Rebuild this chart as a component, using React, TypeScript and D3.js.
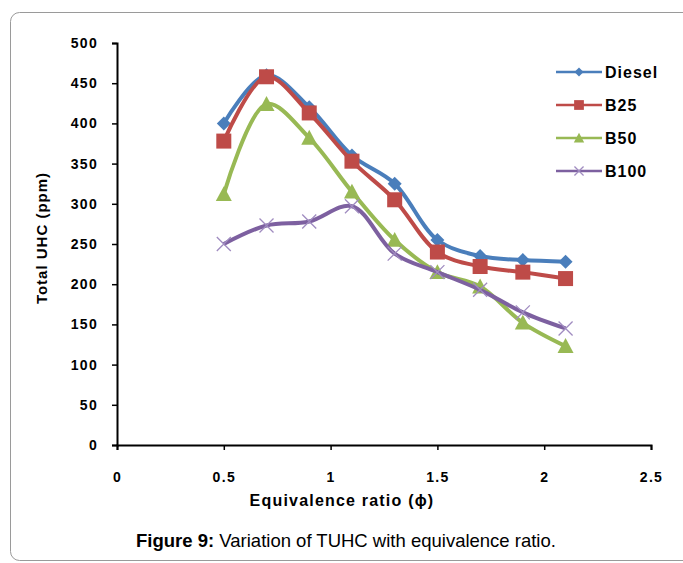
import React, { useEffect, useRef } from 'react';
import * as d3 from 'd3';

const phi = [0.5, 0.7, 0.9, 1.1, 1.3, 1.5, 1.7, 1.9, 2.1];
const diesel = [400, 460, 420, 360, 325, 255, 235, 230, 228];
const b25 = [378, 458, 413, 353, 305, 240, 222, 215, 207];
const b50 = [312, 424, 382, 315, 255, 215, 197, 152, 123];
const b100 = [250, 273, 278, 297, 238, 215, 193, 165, 145];
const xTicks = [0, 0.5, 1, 1.5, 2, 2.5];
const yTicks = [0, 50, 100, 150, 200, 250, 300, 350, 400, 450, 500];

const series = [
  { name: 'Diesel', values: diesel, color: '#4a7ebb', marker: 'diamond' },
  { name: 'B25', values: b25, color: '#be4b48', marker: 'square' },
  { name: 'B50', values: b50, color: '#98b954', marker: 'triangle' },
  { name: 'B100', values: b100, color: '#7d60a0', marker: 'cross' },
];

const FONT = '"Liberation Sans", Arial, sans-serif';

export default function App() {
  const ref = useRef<SVGSVGElement>(null);

  useEffect(() => {
    const svg = d3.select(ref.current);
    svg.html('');

    // outer frame
    svg.append('rect')
      .attr('x', 10.5).attr('y', 12.5)
      .attr('width', 690).attr('height', 548)
      .attr('rx', 9)
      .attr('fill', 'none')
      .attr('stroke', '#9a9a9a');

    const x = d3.scaleLinear().domain([0, 2.5]).range([117, 651]);
    const y = d3.scaleLinear().domain([0, 500]).range([445, 43]);

    // axes
    const xAxis = svg.append('g')
      .attr('transform', 'translate(0,445)')
      .call(d3.axisBottom(x).tickValues(xTicks).tickSize(5).tickFormat(d => String(d)));
    const yAxis = svg.append('g')
      .attr('transform', 'translate(117,0)')
      .call(d3.axisLeft(y).tickValues(yTicks).tickSize(5).tickFormat(d => String(d)));

    [xAxis, yAxis].forEach(g => {
      g.select('.domain').attr('stroke', '#000').attr('stroke-width', 2);
      g.selectAll('.tick line').attr('stroke', '#000').attr('stroke-width', 1.5);
      g.selectAll('.tick text')
        .attr('fill', '#000')
        .attr('font-family', FONT)
        .attr('font-size', 14)
        .attr('font-weight', 'bold')
        .attr('letter-spacing', 1.3);
    });
    xAxis.selectAll('.tick text').attr('dy', 0).attr('y', 37);
    yAxis.selectAll('.tick text').attr('x', -19);

    // axis titles
    svg.append('text')
      .attr('x', 342).attr('y', 506)
      .attr('text-anchor', 'middle')
      .attr('font-family', FONT).attr('font-size', 16).attr('font-weight', 'bold')
      .attr('letter-spacing', 1.2)
      .text('Equivalence ratio (ϕ)');

    svg.append('text')
      .attr('transform', 'translate(47,238) rotate(-90)')
      .attr('text-anchor', 'middle')
      .attr('font-family', FONT).attr('font-size', 15).attr('font-weight', 'bold')
      .attr('letter-spacing', 1)
      .text('Total UHC (ppm)');

    // caption
    const cap = svg.append('text')
      .attr('x', 346).attr('y', 547)
      .attr('text-anchor', 'middle')
      .attr('font-family', FONT).attr('font-size', 18.5);
    cap.append('tspan').attr('font-weight', 'bold').text('Figure 9:');
    cap.append('tspan').text(' Variation of TUHC with equivalence ratio.');

    const drawMarker = (g: any, kind: string, cx: number, cy: number, color: string, scale = 1) => {
      if (kind === 'diamond') {
        const s = 7 * scale;
        g.append('path')
          .attr('d', `M${cx},${cy - s}L${cx + s},${cy}L${cx},${cy + s}L${cx - s},${cy}Z`)
          .attr('fill', color);
      } else if (kind === 'square') {
        const s = 7.5 * scale;
        g.append('rect')
          .attr('x', cx - s).attr('y', cy - s)
          .attr('width', 2 * s).attr('height', 2 * s)
          .attr('fill', color);
      } else if (kind === 'triangle') {
        const s = 8 * scale;
        g.append('path')
          .attr('d', `M${cx},${cy - s}L${cx + s},${cy + s * 0.85}L${cx - s},${cy + s * 0.85}Z`)
          .attr('fill', color);
      } else {
        const s = 7 * scale;
        g.append('path')
          .attr('d', `M${cx - s},${cy - s}L${cx + s},${cy + s}M${cx + s},${cy - s}L${cx - s},${cy + s}`)
          .attr('stroke', '#a08cc0').attr('stroke-width', 1.3).attr('fill', 'none');
      }
    };

    const line = d3.line<number>()
      .x((_, i) => x(phi[i]))
      .y(d => y(d))
      .curve(d3.curveCatmullRom.alpha(0.5));

    series.forEach(s => {
      const g = svg.append('g');
      g.append('path')
        .attr('d', line(s.values))
        .attr('fill', 'none')
        .attr('stroke', s.color)
        .attr('stroke-width', 4)
        .attr('stroke-linejoin', 'round');
      s.values.forEach((v, i) => drawMarker(g, s.marker, x(phi[i]), y(v), s.color));
    });

    // legend
    const legend = svg.append('g');
    series.forEach((s, i) => {
      const ly = 72 + i * 33;
      legend.append('line')
        .attr('x1', 556).attr('x2', 602)
        .attr('y1', ly).attr('y2', ly)
        .attr('stroke', s.color).attr('stroke-width', 2.5);
      drawMarker(legend, s.marker, 579, ly, s.color, 0.65);
      legend.append('text')
        .attr('x', 605).attr('y', ly + 6)
        .attr('font-family', FONT).attr('font-size', 16).attr('font-weight', 'bold')
        .attr('letter-spacing', 1)
        .text(s.name);
    });
  }, []);

  return (
    <svg
      ref={ref}
      width={683}
      height={563}
      style={{ position: 'absolute', left: 0, top: 0, background: '#fff' }}
    />
  );
}
